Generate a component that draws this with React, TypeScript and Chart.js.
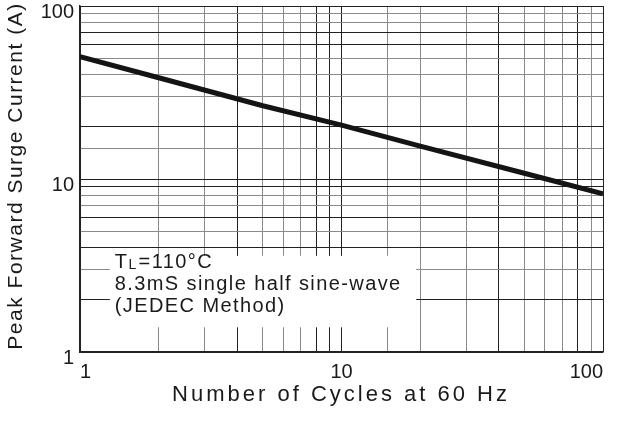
import React, { useEffect, useRef } from "react";
import { Chart, registerables } from "chart.js";

Chart.register(...registerables);

// Data (log-log)
const cycles = [1, 2, 5, 10, 20, 50, 100];
const surgeCurrent = [51, 38.5, 26.5, 20.5, 15.5, 10.8, 8.2];
const xTickLabels = [1, 10, 100];
const yTickLabels = [1, 10, 100];
const darkX = [1, 4, 8, 9, 10, 40, 80, 100];
const darkY = [1, 2, 4, 6, 9, 10, 20, 60, 70, 100];
const noteLines = ["=110°C", "8.3mS single half sine-wave", "(JEDEC Method)"];
const xTitle = "Number of Cycles at 60 Hz";
const yTitle = "Peak Forward Surge Current (A)";
// annotation box in data coordinates
const noteBoxX = [1.3, 19.3];
const noteBoxY = [1.39, 3.6];

const FONT = "'Liberation Sans', Arial, Helvetica, sans-serif";
const TEXT = "#1a1a1a";

const overlay = {
  id: "overlay",
  beforeDatasetsDraw(chart: any) {
    const { ctx, scales } = chart;
    const x = scales.x, y = scales.y;
    const l = x.getPixelForValue(noteBoxX[0]);
    const r = x.getPixelForValue(noteBoxX[1]);
    const t = y.getPixelForValue(noteBoxY[1]);
    const b = y.getPixelForValue(noteBoxY[0]);
    ctx.save();
    ctx.fillStyle = "#ffffff";
    ctx.fillRect(l, t, r - l, b - t);
    ctx.fillStyle = TEXT;
    ctx.textBaseline = "middle";
    ctx.textAlign = "left";
    (ctx as any).letterSpacing = "1.4px";
    const tx = l + 5;
    const ty0 = t + 7;
    const lh = 22;
    ctx.font = `20px ${FONT}`;
    ctx.fillText("T", tx, ty0);
    const wT = ctx.measureText("T").width;
    ctx.font = `14px ${FONT}`;
    ctx.fillText("L", tx + wT, ty0 + 2);
    const wL = ctx.measureText("L").width;
    ctx.font = `20px ${FONT}`;
    ctx.fillText(noteLines[0], tx + wT + wL + 1, ty0);
    ctx.fillText(noteLines[1], tx, ty0 + lh);
    ctx.fillText(noteLines[2], tx, ty0 + lh * 2);
    ctx.restore();
  },
  afterDraw(chart: any) {
    const { ctx } = chart;
    ctx.save();
    ctx.fillStyle = TEXT;
    ctx.font = `22px ${FONT}`;
    ctx.textAlign = "center";
    ctx.textBaseline = "middle";
    (ctx as any).letterSpacing = "3px";
    ctx.fillText(xTitle, 341, 395);
    ctx.font = `21px ${FONT}`;
    ctx.translate(16, 176);
    ctx.rotate(-Math.PI / 2);
    (ctx as any).letterSpacing = "1.5px";
    ctx.fillText(yTitle, 0, 0);
    ctx.restore();
  },
};

export default function App() {
  const ref = useRef<HTMLCanvasElement>(null);
  useEffect(() => {
    if (!ref.current) return;
    const chart = new Chart(ref.current, {
      type: "line",
      data: {
        datasets: [
          {
            data: cycles.map((c, i) => ({ x: c, y: surgeCurrent[i] })),
            borderColor: "#141414",
            borderWidth: 5,
            pointRadius: 0,
            fill: false,
            tension: 0,
          },
        ],
      },
      options: {
        animation: false,
        responsive: false,
        devicePixelRatio: 1,
        layout: { padding: { left: 0, right: 28, top: 6, bottom: 0 } },
        plugins: { legend: { display: false }, tooltip: { enabled: false } },
        scales: {
          x: {
            type: "logarithmic",
            min: 1,
            max: 100,
            afterFit: (s: any) => {
              s.height = 69;
              s.paddingLeft = 0;
              s.paddingRight = 0;
            },
            grid: {
              drawTicks: false,
              color: (c: any) => (darkX.includes(c.tick?.value) ? "#222" : "#8a8a8a"),
              lineWidth: 1,
            },
            border: { color: "#222", width: 1.5 },
            ticks: {
              autoSkip: false,
              maxRotation: 0,
              align: "inner",
              padding: 8,
              color: TEXT,
              font: { family: FONT, size: 20 },
              callback: (v: any) => (xTickLabels.includes(Number(v)) ? String(v) : ""),
            },
          },
          y: {
            type: "logarithmic",
            min: 1,
            max: 100,
            afterFit: (s: any) => {
              s.width = 80;
              s.paddingTop = 0;
              s.paddingBottom = 0;
            },
            grid: {
              drawTicks: false,
              color: (c: any) => (darkY.includes(c.tick?.value) ? "#222" : "#8a8a8a"),
              lineWidth: 1,
            },
            border: { color: "#222", width: 1.5 },
            ticks: {
              autoSkip: false,
              padding: 6,
              labelOffset: 6,
              color: TEXT,
              font: { family: FONT, size: 20 },
              callback: (v: any) => (yTickLabels.includes(Number(v)) ? String(v) : ""),
            },
          },
        },
      },
      plugins: [overlay],
    });
    return () => chart.destroy();
  }, []);
  return (
    <div style={{ position: "fixed", left: 0, top: 0, width: 631, height: 421, background: "#fff" }}>
      <canvas ref={ref} width={631} height={421} />
    </div>
  );
}
